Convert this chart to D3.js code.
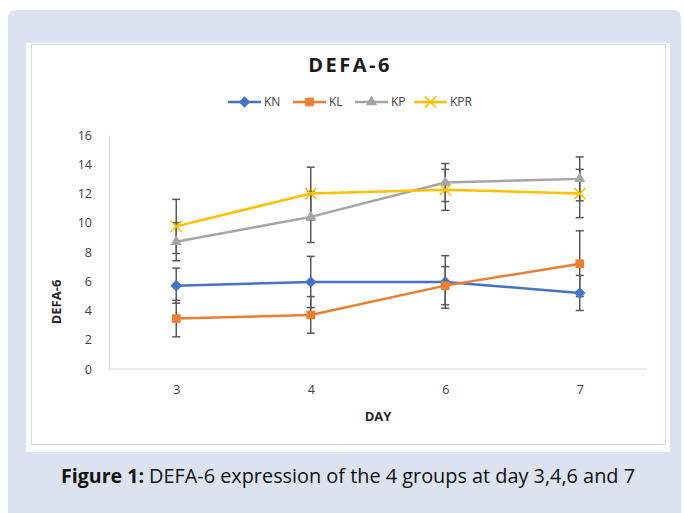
<!DOCTYPE html>
<html>
<head>
<meta charset="utf-8">
<script src="https://cdn.jsdelivr.net/npm/d3@7"></script>
<style>
  body { margin: 0; background: #fff; }
</style>
</head>
<body>
<div id="chart"></div>
<script>
// values
const days = ["3", "4", "6", "7"];
const seriesNames = ["KN", "KL", "KP", "KPR"];
const kn = [5.7, 5.95, 5.95, 5.2];
const kl = [3.45, 3.7, 5.7, 7.2];
const kp = [8.7, 10.4, 12.75, 13.0];
const kpr = [9.75, 12.0, 12.25, 12.0];
const knErr = [1.2, 1.75, 1.8, 1.2];
const klErr = [1.25, 1.25, 1.3, 2.25];
const kpErr = [1.3, 1.75, 1.3, 1.5];
const kprErr = [1.85, 1.8, 1.4, 1.65];
const yTicks = [0, 2, 4, 6, 8, 10, 12, 14, 16];

const colors = { KN: "#4472c4", KL: "#ed7d31", KP: "#a5a5a5", KPR: "#ffc000" };
const symbols = { KN: d3.symbolDiamond2, KL: d3.symbolSquare2, KP: d3.symbolTriangle2, KPR: d3.symbolX };
const symSize = { KN: 85, KL: 95, KP: 90, KPR: 85 };

const series = [
    { name: "KN", values: kn, err: knErr },
    { name: "KL", values: kl, err: klErr },
    { name: "KP", values: kp, err: kpErr },
    { name: "KPR", values: kpr, err: kprErr }
];

const W = 684, H = 513;
const font = "'Open Sans', 'Noto Sans', sans-serif";

const svg = d3.select("#chart").append("svg")
    .attr("width", W)
    .attr("height", H)
    .style("font-family", font);

// outer panel
svg.append("rect")
    .attr("x", 8).attr("y", 10)
    .attr("width", 673).attr("height", 520)
    .attr("rx", 8)
    .attr("fill", "#dde2f0");

// white chart area
svg.append("rect")
    .attr("x", 26).attr("y", 43)
    .attr("width", 644).attr("height", 409)
    .attr("fill", "#fff");
svg.append("rect")
    .attr("x", 31.5).attr("y", 44.5)
    .attr("width", 634).attr("height", 400)
    .attr("fill", "none")
    .attr("stroke", "#d9d9d9");

const plot = { left: 109, right: 647, top: 135, bottom: 369 };

const x = d3.scalePoint()
    .domain(days)
    .range([plot.left, plot.right])
    .padding(0.5);

const y = d3.scaleLinear()
    .domain([0, 16])
    .range([plot.bottom, plot.top]);

// axes
const yAxis = svg.append("g")
    .attr("transform", `translate(${plot.left},0)`)
    .call(d3.axisLeft(y).tickValues(yTicks).tickSize(0).tickPadding(17));
yAxis.select(".domain").attr("stroke", "#d9d9d9");
yAxis.selectAll("text").attr("font-size", 12.5).attr("fill", "#404040").attr("font-family", font);

const xAxis = svg.append("g")
    .attr("transform", `translate(0,${plot.bottom})`)
    .call(d3.axisBottom(x).tickSize(0).tickPadding(16));
xAxis.select(".domain").attr("stroke", "#d9d9d9").attr("d", `M${plot.left},0H${plot.right}`);
xAxis.selectAll("text").attr("font-size", 12.5).attr("fill", "#404040").attr("font-family", font);

// title
svg.append("text")
    .attr("x", 350).attr("y", 72)
    .attr("text-anchor", "middle")
    .attr("font-size", 20)
    .attr("font-weight", "bold")
    .style("letter-spacing", "2.5px")
    .attr("fill", "#1a1a1a")
    .text("DEFA-6");

// axis titles
svg.append("text")
    .attr("x", (plot.left + plot.right) / 2).attr("y", 421)
    .attr("text-anchor", "middle")
    .attr("font-size", 13)
    .attr("font-weight", "bold")
    .attr("fill", "#262626")
    .text("DAY");

svg.append("text")
    .attr("transform", "translate(61,302) rotate(-90)")
    .attr("text-anchor", "middle")
    .attr("font-size", 13)
    .attr("font-weight", "bold")
    .attr("fill", "#262626")
    .text("DEFA-6");

// error bars
const errG = svg.append("g");
series.forEach(s => {
    s.values.forEach((v, i) => {
        const cx = x(days[i]);
        const y1 = y(v + s.err[i]), y0 = y(v - s.err[i]);
        errG.append("line")
            .attr("x1", cx).attr("x2", cx)
            .attr("y1", y1).attr("y2", y0)
            .attr("stroke", "#595959").attr("stroke-width", 1.5);
        [y1, y0].forEach(yy => {
            errG.append("line")
                .attr("x1", cx - 4).attr("x2", cx + 4)
                .attr("y1", yy).attr("y2", yy)
                .attr("stroke", "#595959").attr("stroke-width", 1.5);
        });
    });
});

// lines and markers
const line = d3.line()
    .x((d, i) => x(days[i]))
    .y(d => y(d));

series.forEach(s => {
    svg.append("path")
        .datum(s.values)
        .attr("fill", "none")
        .attr("stroke", colors[s.name])
        .attr("stroke-width", 2.5)
        .attr("d", line);

    svg.selectAll(null)
        .data(s.values)
        .join("path")
        .attr("transform", (d, i) => `translate(${x(days[i])},${y(d)})`)
        .attr("d", d3.symbol().type(symbols[s.name]).size(symSize[s.name]))
        .attr("fill", s.name === "KPR" ? "none" : colors[s.name])
        .attr("stroke", colors[s.name])
        .attr("stroke-width", s.name === "KPR" ? 1.5 : 0);
});

// legend
const legendX = [228, 293, 355, 414];
const legend = svg.append("g");
seriesNames.forEach((name, i) => {
    const lx = legendX[i], ly = 102;
    legend.append("line")
        .attr("x1", lx).attr("x2", lx + 33)
        .attr("y1", ly).attr("y2", ly)
        .attr("stroke", colors[name]).attr("stroke-width", 2.5);
    legend.append("path")
        .attr("transform", `translate(${lx + 16.5},${ly})`)
        .attr("d", d3.symbol().type(symbols[name]).size(symSize[name]))
        .attr("fill", name === "KPR" ? "none" : colors[name])
        .attr("stroke", colors[name])
        .attr("stroke-width", name === "KPR" ? 1.5 : 0);
    legend.append("text")
        .attr("x", lx + 36).attr("y", ly + 4)
        .attr("font-size", 12)
        .attr("fill", "#404040")
        .text(name);
});

// caption (source font is condensed, so each part is fitted to its measured width)
svg.append("text")
    .attr("x", 61).attr("y", 483)
    .attr("font-size", 20)
    .attr("font-weight", "bold")
    .attr("fill", "#111")
    .attr("textLength", 83)
    .attr("lengthAdjust", "spacingAndGlyphs")
    .text("Figure 1:");
svg.append("text")
    .attr("x", 149).attr("y", 483)
    .attr("font-size", 20)
    .attr("fill", "#111")
    .attr("textLength", 486)
    .attr("lengthAdjust", "spacingAndGlyphs")
    .text("DEFA-6 expression of the 4 groups at day 3,4,6 and 7");
</script>
</body>
</html>
